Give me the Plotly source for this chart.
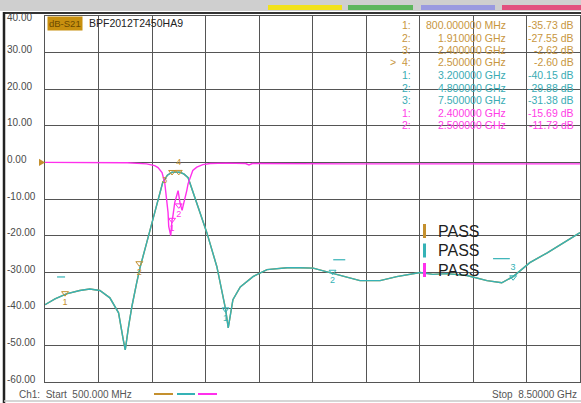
import plotly.graph_objects as go

# ---------------- data ----------------
freq_s21 = [0.50, 0.65, 0.82, 1.02, 1.17, 1.32, 1.47, 1.60, 1.67, 1.70, 1.75, 1.80, 1.87, 1.92,
            2.02, 2.12, 2.26, 2.33, 2.40, 2.52, 2.58, 2.64, 2.74, 2.85, 2.92, 3.07, 3.15, 3.20,
            3.24, 3.31, 3.42, 3.61, 3.82, 4.12, 4.31, 4.51, 4.76, 4.99, 5.21, 5.51, 5.76, 6.11,
            6.30, 6.51, 6.81, 7.11, 7.33, 7.50, 7.75, 8.01, 8.25, 8.50]
s21_db = [-38.9, -37.3, -35.9, -35.0, -34.6, -35.0, -37.0, -41.1, -48.4, -51.2, -44.8, -39.3,
          -33.0, -28.8, -22.0, -14.8, -5.5, -3.5, -2.7, -2.7, -3.2, -4.2, -9.4, -15.7, -19.2,
          -28.5, -35.6, -40.1, -45.2, -37.5, -34.0, -31.2, -29.3, -28.8, -28.8, -28.9, -30.1,
          -31.2, -32.3, -32.3, -31.2, -30.1, -30.6, -30.4, -30.9, -32.3, -32.9, -31.2, -27.4,
          -24.7, -21.9, -19.2]

freq_s11 = [0.50, 1.73, 2.02, 2.14, 2.19, 2.25, 2.29, 2.32, 2.34, 2.35, 2.38, 2.40, 2.41, 2.44,
            2.47, 2.49, 2.52, 2.55, 2.56, 2.59, 2.62, 2.64, 2.67, 2.71, 2.77, 2.86, 2.97, 3.20,
            3.50, 3.55, 3.60, 5.00, 8.50]
s11_db = [0.0, -0.1, -0.4, -0.9, -1.4, -2.8, -5.5, -10.1, -13.7, -17.5, -20.0, -15.7, -15.0,
          -11.0, -8.5, -7.7, -11.2, -13.1, -12.3, -10.2, -7.7, -5.8, -4.2, -2.2, -1.3, -0.6,
          -0.3, -0.2, -0.3, -0.7, -0.3, -0.4, -0.4]

# markers: (index label, frequency GHz, value dB)
mk_orange_idx = ["1", "2", "3", "4"]
mk_orange_f = [0.8, 1.91, 2.4, 2.5]
mk_orange_db = [-35.73, -27.55, -2.62, -2.60]
mk_cyan_idx = ["1", "2", "3"]
mk_cyan_f = [3.2, 4.8, 7.5]
mk_cyan_db = [-40.15, -29.88, -31.38]
mk_mag_idx = ["1", "2"]
mk_mag_f = [2.4, 2.5]
mk_mag_db = [-15.69, -11.73]
active_marker = ("orange", "4")

# limit line segments (cyan)
lim_f0 = [0.68, 4.81, 7.20]
lim_f1 = [0.80, 4.99, 7.45]
lim_db = [-31.3, -26.6, -26.3]

y_ticks = [40, 30, 20, 10, 0, -10, -20, -30, -40, -50, -60]
start_ghz = 0.5
stop_ghz = 8.5
trace_title = "BPF2012T2450HA9"
pass_labels = ["PASS", "PASS", "PASS"]

# ---------------- styles ----------------
C_OR = "#c4902e"
C_CY = "#35b2b6"
C_MG = "#ff30ec"
T_OR = "#c8963e"
T_CY = "#3aacb4"
T_MG = "#ff3ce6"
FONT = "Liberation Sans"
W, H = 581, 403
L, R, T, B = 45, 1, 16, 21
PW, PH = W - L - R, H - T - B


def px(x):
    return (x - L) / PW


def py(y):
    return (H - B - y) / PH


fig = go.Figure()

# orange S21 (under cyan)
fig.add_trace(go.Scatter(x=freq_s21, y=s21_db, mode="lines",
                         line=dict(color=C_OR, width=1.4), hoverinfo="skip"))
fig.add_trace(go.Scatter(x=freq_s21, y=s21_db, mode="lines",
                         line=dict(color=C_CY, width=1.4), hoverinfo="skip"))
fig.add_trace(go.Scatter(x=freq_s11, y=s11_db, mode="lines",
                         line=dict(color=C_MG, width=1.4), hoverinfo="skip"))

# limit lines
lx, ly = [], []
for a, b, v in zip(lim_f0, lim_f1, lim_db):
    lx += [a, b, None]
    ly += [v, v, None]
fig.add_trace(go.Scatter(x=lx, y=ly, mode="lines", line=dict(color=C_CY, width=1.2),
                         hoverinfo="skip"))

# markers
def add_markers(fx, dbv, idx, color, positions):
    fig.add_trace(go.Scatter(
        x=fx, y=dbv, mode="markers+text", text=idx, textposition=positions,
        textfont=dict(family=FONT, size=9, color=color),
        marker=dict(symbol="triangle-down-open", size=6, color=color, line=dict(width=1)),
        hoverinfo="skip", cliponaxis=False))


add_markers(mk_orange_f, mk_orange_db, mk_orange_idx, C_OR,
            ["bottom center", "bottom center", "bottom left", "top center"])
add_markers(mk_cyan_f, mk_cyan_db, mk_cyan_idx, C_CY,
            ["bottom center", "bottom center", "top center"])
add_markers(mk_mag_f, mk_mag_db, mk_mag_idx, C_MG, ["bottom center", "bottom center"])

ann = []
# y tick labels
for v in y_ticks:
    ann.append(dict(x=px(5), xref="paper", y=v, yref="y", xanchor="left", yanchor="middle",
                    yshift=(-1 if v == y_ticks[0] else 3), showarrow=False,
                    text=f"{v:.2f}", font=dict(family=FONT, size=10, color="#4a4a4a")))

# title box
ann.append(dict(x=px(47), xref="paper", y=py(23), yref="paper", xanchor="left",
                yanchor="middle", showarrow=False, text="dB-S21", bgcolor="#c8900f",
                borderpad=1, font=dict(family=FONT, size=9.5, color="#6b4a00")))
ann.append(dict(x=px(87), xref="paper", y=py(23), yref="paper", xanchor="left",
                yanchor="middle", showarrow=False, text=trace_title,
                font=dict(family=FONT, size=10.5, color="#222222")))

# marker table
rows = []
for i, f, v in zip(mk_orange_idx, mk_orange_f, mk_orange_db):
    rows.append(("orange", i, f, v, T_OR))
for i, f, v in zip(mk_cyan_idx, mk_cyan_f, mk_cyan_db):
    rows.append(("cyan", i, f, v, T_CY))
for i, f, v in zip(mk_mag_idx, mk_mag_f, mk_mag_db):
    rows.append(("mag", i, f, v, T_MG))
for r, (tr, i, f, v, col) in enumerate(rows):
    yy = py(25 + 12.5 * r)
    lab = (">  " if (tr, i) == active_marker else "") + i + ":"
    fstr = f"{f * 1000:.6f} MHz" if f < 1 else f"{f:.6f} GHz"
    for xx, txt in ((413, lab), (508, fstr), (576, f"{v:.2f} dB")):
        ann.append(dict(x=px(xx), xref="paper", y=yy, yref="paper", xanchor="right",
                        yanchor="middle", showarrow=False, text=txt,
                        font=dict(family=FONT, size=10.5, color=col)))

# PASS indicators
shapes = []
for k, (lbl, col) in enumerate(zip(pass_labels, [C_OR, C_CY, C_MG])):
    yc = 231 + 19.5 * k
    ann.append(dict(x=px(436), xref="paper", y=py(yc), yref="paper", xanchor="left",
                    yanchor="middle", showarrow=False, text=lbl,
                    font=dict(family=FONT, size=16, color="#1e1e1e")))
    shapes.append(dict(type="rect", xref="paper", yref="paper", x0=px(423), x1=px(426),
                       y0=py(yc + 7), y1=py(yc - 7), fillcolor=col, line=dict(width=0)))

# bottom texts
ann.append(dict(x=px(17), xref="paper", y=py(394), yref="paper", xanchor="left",
                yanchor="middle", showarrow=False,
                text=f"Ch1:  Start  {start_ghz * 1000:.3f} MHz",
                font=dict(family=FONT, size=10, color="#555555")))
ann.append(dict(x=px(579), xref="paper", y=py(394), yref="paper", xanchor="right",
                yanchor="middle", showarrow=False, text=f"Stop  {stop_ghz:.5f} GHz",
                font=dict(family=FONT, size=10, color="#555555")))
for (a, b), col in zip(((154, 173), (177, 195), (198, 217)), (C_OR, C_CY, C_MG)):
    shapes.append(dict(type="line", xref="paper", yref="paper", x0=px(a), x1=px(b),
                       y0=py(394), y1=py(394), line=dict(color=col, width=2)))

# frame decorations
shapes.append(dict(type="rect", xref="paper", yref="paper", x0=px(0), x1=px(581),
                   y0=py(11), y1=py(0), fillcolor="#cfcfcf", line=dict(width=0), layer="below"))
for (a, b), col in zip(((268, 342), (348, 413), (421, 495), (502, 581)),
                       ("#f2e21a", "#5db65d", "#9a9ae0", "#e2507e")):
    shapes.append(dict(type="rect", xref="paper", yref="paper", x0=px(a), x1=px(b),
                       y0=py(10), y1=py(5), fillcolor=col, line=dict(width=0)))
shapes.append(dict(type="line", xref="paper", yref="paper", x0=px(3), x1=px(581),
                   y0=py(13), y1=py(13), line=dict(color="#333333", width=2)))
shapes.append(dict(type="line", xref="paper", yref="paper", x0=px(4), x1=px(4),
                   y0=py(12), y1=py(403), line=dict(color="#222222", width=2.5)))
shapes.append(dict(type="line", xref="paper", yref="paper", x0=px(4), x1=px(581),
                   y0=py(401), y1=py(401), line=dict(color="#c8c8c8", width=1.5)))
# reference level triangle
shapes.append(dict(type="path", xref="paper", yref="y",
                   path=f"M {px(39)},1.0 L {px(45)},0 L {px(39)},-1.0 Z",
                   fillcolor=C_OR, line=dict(width=0)))

fig.update_layout(
    width=W, height=H, margin=dict(l=L, r=R, t=T, b=B),
    paper_bgcolor="white", plot_bgcolor="white", showlegend=False,
    annotations=ann, shapes=shapes,
    xaxis=dict(range=[start_ghz, stop_ghz], tick0=start_ghz, dtick=0.8, showticklabels=False,
               ticks="", showgrid=True, gridcolor="#555555", gridwidth=1, zeroline=False,
               showline=True, mirror=True, linecolor="#555555", linewidth=1, fixedrange=True),
    yaxis=dict(range=[-60, 40], dtick=10, showticklabels=False, ticks="", showgrid=True,
               gridcolor="#555555", gridwidth=1, zeroline=False, showline=True, mirror=True,
               linecolor="#555555", linewidth=1, fixedrange=True),
)

fig.write_html("out.html", config={"displayModeBar": False},
               post_script="document.body.style.margin='0';document.body.style.overflow='hidden';")
